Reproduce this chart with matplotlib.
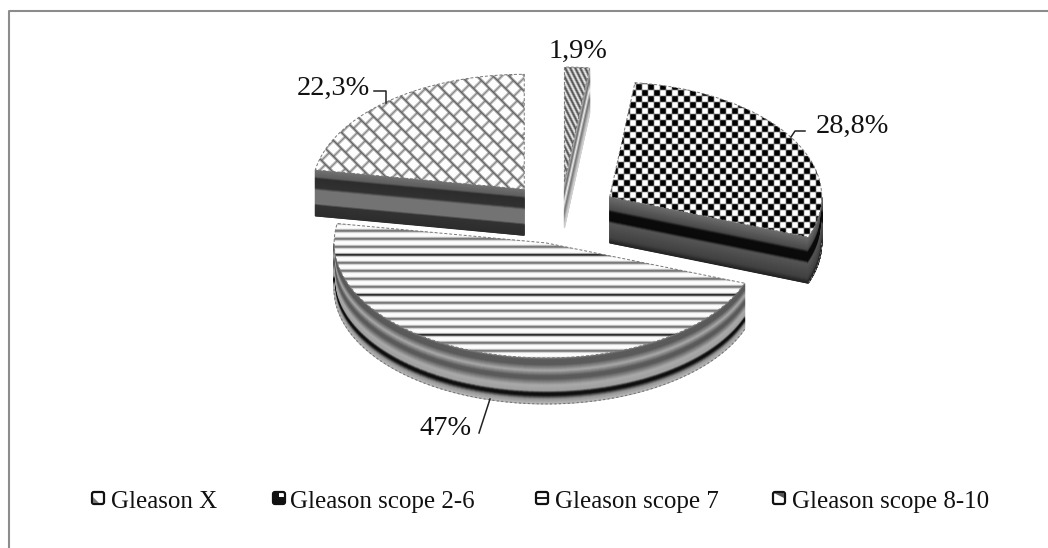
import numpy as np
import matplotlib
matplotlib.use("Agg")
import matplotlib.pyplot as plt
from matplotlib.patches import Polygon, Rectangle, FancyBboxPatch

# Chart data
categories = ["Gleason X", "Gleason scope 2-6", "Gleason scope 7", "Gleason scope 8-10"]
values = [1.9, 28.8, 47.0, 22.3]
value_labels = ["1,9%", "28,8%", "47%", "22,3%"]

W, H = 1048, 548
plt.rcParams['font.family'] = ['Liberation Serif', 'DejaVu Serif']

# Pie geometry, in pixels
cx, cy = 561, 213
rx, ry = 212, 115
depth = 46
explode_x, explode_y = 57, 31


def soften(img):
    # small blur, the reference is a scaled-up bitmap
    out = img.copy()
    out[1:-1, 1:-1] = (img[1:-1, 1:-1] * 2 + img[:-2, 1:-1] + img[2:, 1:-1]
                       + img[1:-1, :-2] + img[1:-1, 2:]) / 6
    return out


yy, xx = np.mgrid[0:H, 0:W]

# Fill patterns
diag = np.where((2 * xx - yy) % 10 < 5, 80.0, 235.0)
checker = np.where((xx // 6 + yy // 6) % 2 == 0, 0.0, 255.0)

row = (yy - 254) % 8
band = ((yy - 254) // 8) % 5
stripes = np.full((H, W), 252.0)
stripes[row == 7] = 190
stripes[row == 0] = 105
stripes[row == 1] = 125
stripes[row == 2] = 220
stripes[(row == 0) & (band == 0)] = 5
stripes[(row == 1) & (band == 0)] = 70

period = 16
a = (xx - yy) % period
lane = ((xx - yy) // period) % 2
b = (xx + yy + lane * period // 2) % period
shingle = np.full((H, W), 253.0)
shingle[b < 3] = 140
shingle[a < 3] = 100

patterns = [soften(diag), soften(checker), soften(stripes), soften(shingle)]

# Colours of the side walls, top to bottom of the wall
wall_pos = [
    [0, 0.3, 0.5, 0.7, 1],
    [0, 0.28, 0.34, 0.52, 0.58, 0.9, 1],
    [0, 0.05, 0.15, 0.28, 0.4, 0.46, 0.6, 0.72, 0.77, 0.82, 0.9, 1],
    [0, 0.16, 0.2, 0.4, 0.45, 0.74, 0.78, 1],
]
wall_gray = [
    [225, 110, 240, 120, 210],
    [110, 75, 10, 10, 85, 65, 35],
    [130, 90, 90, 170, 90, 90, 170, 160, 15, 15, 150, 185],
    [115, 95, 45, 50, 115, 115, 50, 45],
]

fig = plt.figure(figsize=(W / 100, H / 100), dpi=100)
ax = fig.add_axes([0, 0, 1, 1])
ax.set_xlim(0, W)
ax.set_ylim(H, 0)
ax.axis('off')


def ell(ox, oy, deg):
    t = np.radians(deg)
    return ox + rx * np.sin(t), oy - ry * np.cos(t)


def draw_wall(px, py, pos, gray):
    # one smooth mesh along the outline, so no seams between the bands
    fracs = np.linspace(0, 1, depth + 1)
    X = np.tile(px, (len(fracs), 1))
    Y = np.outer(fracs * depth, np.ones(len(px))) + py
    C = np.tile(np.interp(fracs, pos, gray)[:, None], (1, len(px)))
    ax.pcolormesh(X, Y, C, shading='gouraud', cmap='gray', vmin=0, vmax=255, zorder=2)


# Slices run clockwise from the top; the front one goes on last
starts = np.concatenate([[0], np.cumsum(values)[:-1]]) * 3.6 / (sum(values) / 100)
ends = np.cumsum(values) * 3.6 / (sum(values) / 100)
for i in [3, 0, 1, 2]:
    a0, a1 = starts[i], ends[i]
    mid = np.radians((a0 + a1) / 2)
    ox = cx + explode_x * np.sin(mid)
    oy = cy - explode_y * np.cos(mid)

    # walls
    pos, gray = wall_pos[i], wall_gray[i]
    if np.sin(np.radians(a0)) < -1e-6:
        ex, ey = ell(ox, oy, a0)
        draw_wall(np.array([ex, ox]), np.array([ey, oy]), pos, gray)
    if np.sin(np.radians(a1)) > 1e-6:
        ex, ey = ell(ox, oy, a1)
        draw_wall(np.array([ox, ex]), np.array([oy, ey]), pos, gray)
    lo, hi = max(a0, 90), min(a1, 270)
    if hi > lo:
        ang = np.linspace(lo, hi, 120)
        ex, ey = ell(ox, oy, ang)
        draw_wall(ex, ey, pos, gray)
        ax.plot(ex, ey + depth, color='#777777', lw=0.8, ls=(0, (2, 2)), zorder=2.5)

    # top face
    ang = np.linspace(a0, a1, 200)
    ex, ey = ell(ox, oy, ang)
    pts = np.column_stack([np.r_[ox, ex], np.r_[oy, ey]])
    face = Polygon(pts, closed=True, transform=ax.transData, facecolor='none', edgecolor='none')
    ax.add_patch(face)
    im = ax.imshow(patterns[i], cmap='gray', vmin=0, vmax=255, extent=(0, W, H, 0),
                   interpolation='bilinear', zorder=3, aspect='auto')
    im.set_clip_path(face)
    ax.plot(np.r_[ox, ex, ox], np.r_[oy, ey, oy], color='#777777', lw=0.7,
            ls=(0, (3, 2)), zorder=4)

ax.set_xlim(0, W)
ax.set_ylim(H, 0)

# Value labels and their leader lines
label_x = [578, 852, 446, 333]
label_y = [58, 133, 435, 95]
for txt, lx, ly in zip(value_labels, label_x, label_y):
    ax.text(lx, ly, txt, ha='center', va='baseline', fontsize=20.4, color='#111111', zorder=5)
ax.plot([374, 386, 386], [91, 91, 103], color='#222222', lw=1.1, zorder=5)
ax.plot([805, 795, 791], [131, 131, 137], color='#222222', lw=1.1, zorder=5)
ax.plot([490, 479], [399, 433], color='#222222', lw=1.1, zorder=5)

# Legend
marker_x = [91, 272, 535, 772]
text_x = [111, 290, 555, 792]
for i, name in enumerate(categories):
    mx = marker_x[i]
    ax.text(text_x[i], 508, name, ha='left', va='baseline', fontsize=18, color='#111111', zorder=5)
    ax.add_patch(FancyBboxPatch((mx + 1, 492), 12, 12, boxstyle="round,pad=0,rounding_size=2",
                                facecolor='white', edgecolor='#111111', lw=1.6, zorder=5))
    if i == 0:
        ax.add_patch(Polygon([[mx + 2, 497], [mx + 2, 503], [mx + 8, 503]],
                             closed=True, facecolor='#777777', zorder=6))
    elif i == 1:
        ax.add_patch(Rectangle((mx + 2, 493), 5, 10, facecolor='#111111', zorder=6))
        ax.add_patch(Rectangle((mx + 2, 497), 10, 6, facecolor='#111111', zorder=6))
    elif i == 2:
        ax.add_patch(Rectangle((mx + 2, 496.5), 10, 2.5, facecolor='#222222', zorder=6))
    else:
        ax.add_patch(Polygon([[mx + 2, 493], [mx + 12, 493], [mx + 12, 498]],
                             closed=True, facecolor='#555555', zorder=6))

# Chart frame, only left and top show in the picture
ax.plot([8.5, 8.5, W], [H, 10.5, 10.5], color='#8c8c8c', lw=1.5, zorder=1)

fig.savefig("out.png", dpi=100)
